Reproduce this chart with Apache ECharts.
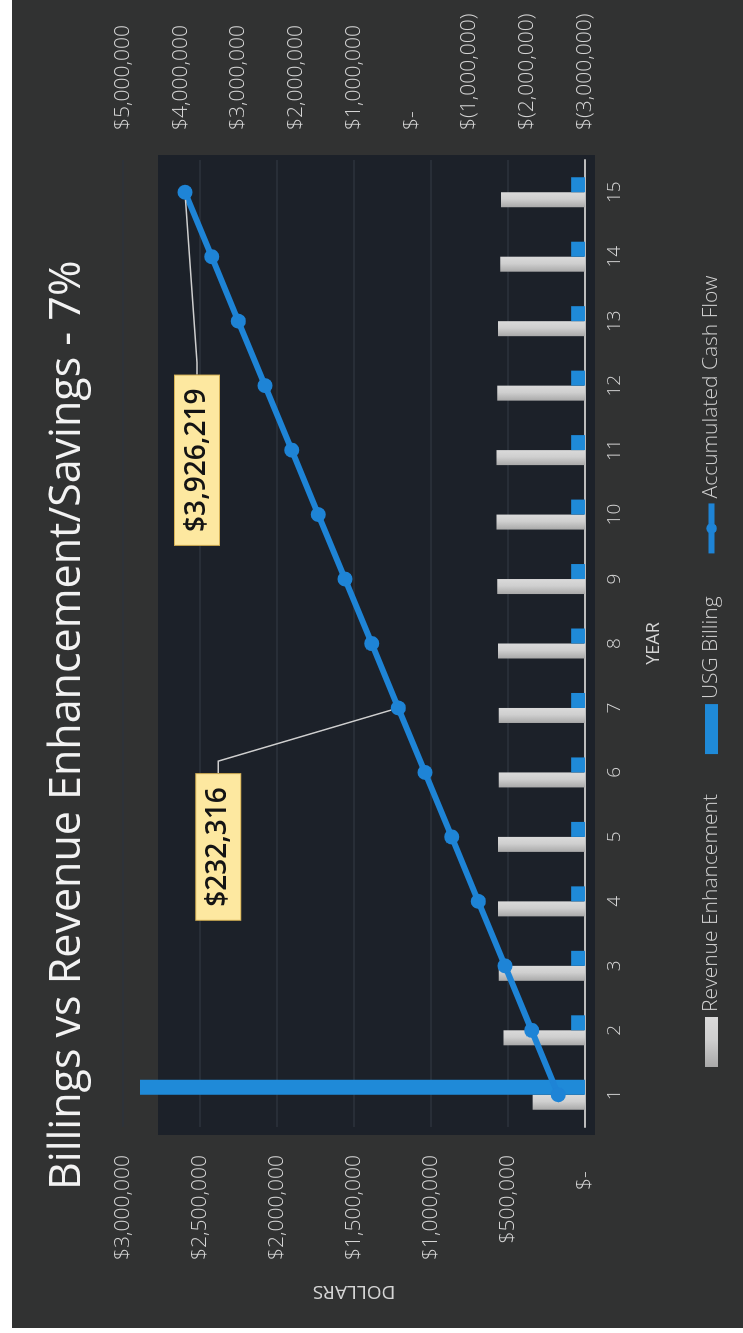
<!DOCTYPE html>
<html>
<head>
<meta charset="utf-8">
<script src="https://cdn.jsdelivr.net/npm/echarts@6.0.0/dist/echarts.min.js"></script>
<style>
html,body{margin:0;padding:0;background:#ffffff;width:743px;height:1333px;overflow:hidden;}
#wrap{position:absolute;left:0;top:0;width:1328px;height:731px;transform-origin:0 0;transform:translate(12px,1328px) rotate(-90deg);}
#chart{width:1328px;height:731px;}
</style>
</head>
<body>
<div id="wrap"><div id="chart"></div></div>
<script>
// ---- data ----
const titleText = 'Billings vs Revenue Enhancement/Savings - 7%';
const years = ['1','2','3','4','5','6','7','8','9','10','11','12','13','14','15'];
const revenueEnhancement = [340000, 530000, 560000, 565000, 565000, 560000, 560000, 565000, 570000, 575000, 575000, 570000, 565000, 550000, 545000];
const usgBilling = [2890000, 90000, 90000, 90000, 90000, 90000, 90000, 90000, 90000, 90000, 90000, 90000, 90000, 90000, 90000];
const accumulatedCashFlow = [-2538000, -2076000, -1615000, -1153000, -691000, -229000, 232316, 694000, 1156000, 1618000, 2079000, 2541000, 3003000, 3464000, 3926219];
const labelledYears = ['7', '15'];
const leftTickLabels = ['$-   ', '$500,000', '$1,000,000', '$1,500,000', '$2,000,000', '$2,500,000', '$3,000,000'];
const rightTickLabels = ['$(3,000,000)', '$(2,000,000)', '$(1,000,000)', '$-', '$1,000,000', '$2,000,000', '$3,000,000', '$4,000,000', '$5,000,000'];
const seriesNames = ['Revenue Enhancement', 'USG Billing', 'Accumulated Cash Flow'];

const chart = echarts.init(document.getElementById('chart'), null, {renderer: 'canvas'});
const fmt = v => '$' + Math.round(v).toLocaleString('en-US');
const labelOffsets = {'7': [-139, -180], '15': [-268, 12]};
const axisTextColor = '#d4d4d4';
const font = "'Open Sans', 'Noto Sans', sans-serif";
const blue = '#1e84d6';

chart.setOption({
  backgroundColor: '#313232',
  animation: false,
  textStyle: {fontFamily: font},
  title: {
    text: titleText,
    left: 133, top: 29,
    textStyle: {color: '#f2f2f2', fontSize: 43, fontWeight: 'normal', fontFamily: font}
  },
  graphic: [{
    type: 'rect', silent: true, z: -10,
    shape: {x: 193, y: 146, width: 980, height: 437},
    style: {fill: '#1c2129'}
  }],
  legend: {
    left: 256, bottom: 16,
    itemWidth: 50, itemHeight: 13, itemGap: 40,
    textStyle: {color: '#cfcfcf', fontSize: 21, fontWeight: 300, fontFamily: font},
    data: [
      {name: seriesNames[0], icon: 'rect'},
      {name: seriesNames[1], icon: 'rect'},
      {name: seriesNames[2], lineStyle: {width: 6, color: blue}, itemStyle: {color: blue}}
    ]
  },
  grid: {left: 201, right: 160, top: 111, bottom: 158},
  xAxis: {
    type: 'category', data: years,
    name: 'YEAR', nameLocation: 'middle', nameGap: 60,
    nameTextStyle: {color: axisTextColor, fontSize: 18, fontFamily: font},
    axisLine: {lineStyle: {color: '#bcbcbc', width: 2}},
    axisTick: {show: false},
    axisLabel: {color: axisTextColor, fontSize: 19, fontWeight: 300, margin: 20, fontFamily: font}
  },
  yAxis: [{
    type: 'value', min: 0, max: 3000000, interval: 500000,
    name: 'DOLLARS', nameLocation: 'middle', nameRotate: 90, nameGap: 155,
    nameTextStyle: {color: axisTextColor, fontSize: 19, fontFamily: font},
    axisLine: {show: false}, axisTick: {show: false},
    splitLine: {lineStyle: {color: '#2c333d', width: 1.5}},
    axisLabel: {
      color: axisTextColor, fontSize: 21, fontWeight: 300, margin: 28, fontFamily: font,
      padding: [0, 0, 26, 0],
      formatter: v => leftTickLabels[Math.round(v / 500000)]
    }
  }, {
    type: 'value', min: -3000000, max: 5000000, interval: 1000000, position: 'right',
    axisLine: {show: false}, axisTick: {show: false}, splitLine: {show: false},
    axisLabel: {
      color: axisTextColor, fontSize: 21, fontWeight: 300, margin: 30, fontFamily: font,
      padding: [0, 0, 14, 0],
      formatter: v => rightTickLabels[Math.round((v + 3000000) / 1000000)]
    }
  }],
  series: [{
    name: seriesNames[0], type: 'bar', yAxisIndex: 0,
    data: revenueEnhancement, barWidth: 15, barGap: '0%',
    itemStyle: {color: new echarts.graphic.LinearGradient(0, 0, 1, 0, [
      {offset: 0, color: '#a9a9a9'}, {offset: 0.55, color: '#cfcfcf'}, {offset: 1, color: '#dadada'}
    ])}
  }, {
    name: seriesNames[1], type: 'bar', yAxisIndex: 0,
    data: usgBilling, barWidth: 15, barGap: '0%',
    itemStyle: {color: '#1f8ad8'}
  }, {
    name: seriesNames[2], type: 'line', yAxisIndex: 1, z: 5,
    data: accumulatedCashFlow.map((v, i) => ({value: v, label: {show: labelledYears.indexOf(years[i]) >= 0}})),
    symbol: 'circle', symbolSize: 15,
    lineStyle: {color: blue, width: 6},
    itemStyle: {color: blue},
    label: {
      show: false, position: 'top',
      formatter: p => fmt(p.value),
      backgroundColor: '#fde8a0', borderColor: '#d6b256', borderWidth: 1,
      padding: [8, 13, 8, 13],
      color: '#141414', fontSize: 28, fontFamily: font, fontWeight: 600
    },
    labelLine: {show: true, length2: 12, lineStyle: {color: '#cfcfcf', width: 1.5}},
    labelLayout: function (p) {
      const o = labelOffsets[years[p.dataIndex]];
      if (!o) return {};
      return {
        x: p.rect.x + p.rect.width / 2 + o[0],
        y: p.rect.y + p.rect.height / 2 + o[1],
        align: 'center', verticalAlign: 'middle'
      };
    }
  }]
});
</script>
</body>
</html>
